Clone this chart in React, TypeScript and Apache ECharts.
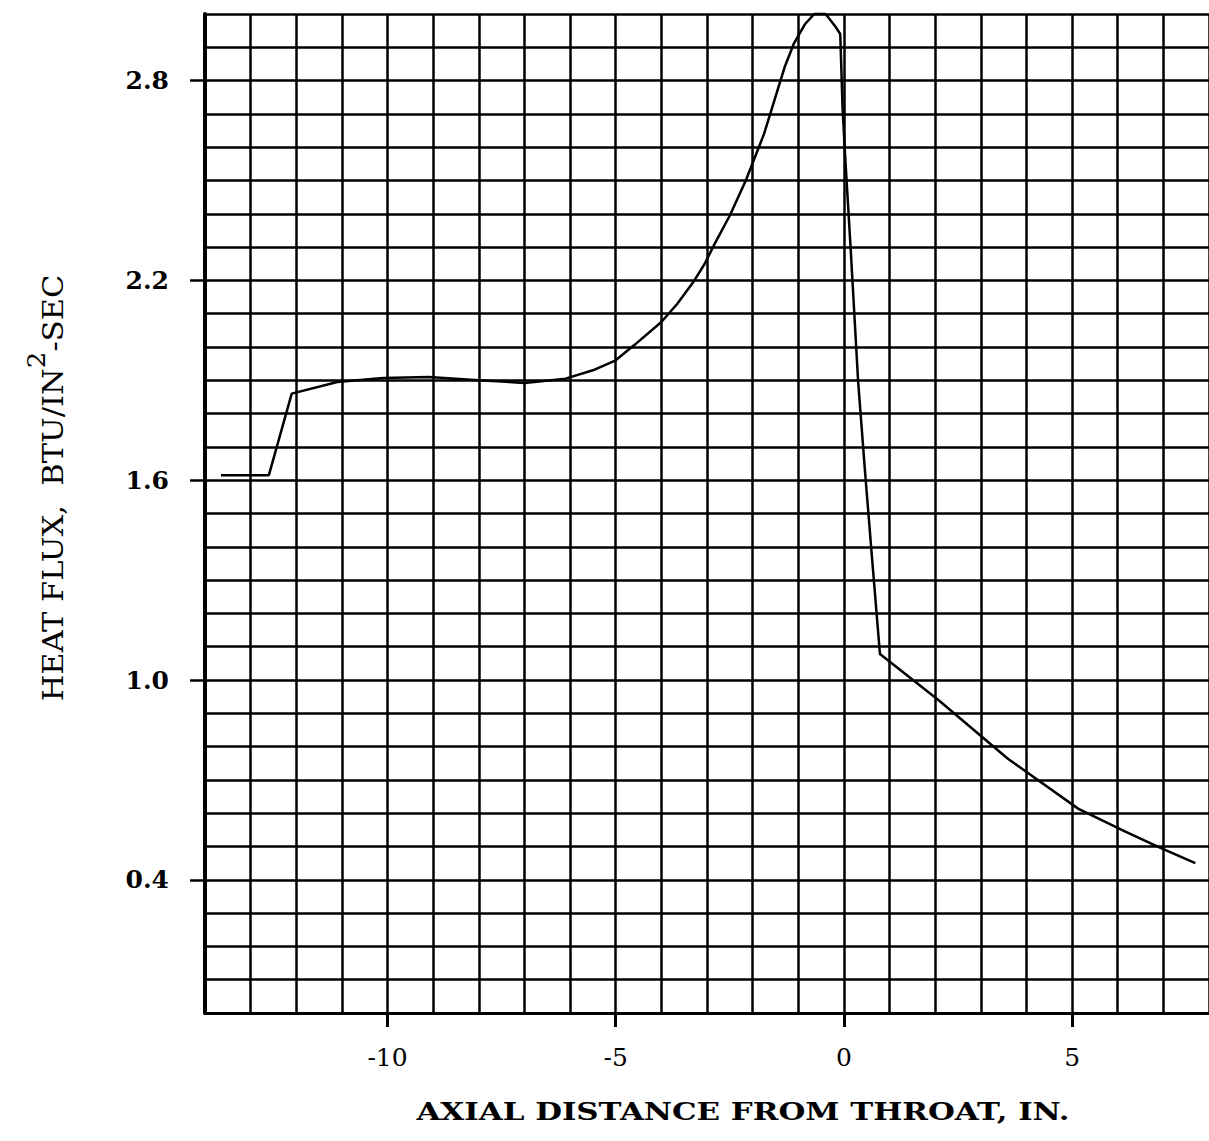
import React, { useEffect, useRef } from 'react';
import * as echarts from 'echarts';

// Axial distance from throat (in.)
const axialDistance = [
  -13.65, -12.6, -12.1, -11.1, -10.1, -9.1, -8.0, -7.0, -6.1, -5.5,
  -5.0, -4.6, -4.0, -3.65, -3.3, -3.05, -2.85, -2.5, -2.15, -1.75,
  -1.3, -1.1, -0.85, -0.65, -0.4, -0.2, -0.08, -0.03, 0.02, 0.15,
  0.31, 0.46, 0.62, 0.79, 2.07, 3.6, 5.14, 6.18, 6.9, 7.7,
];
// Heat flux (BTU/in^2-sec)
const heatFlux = [
  1.615, 1.615, 1.86, 1.895, 1.907, 1.91, 1.9, 1.892, 1.905, 1.93,
  1.96, 2.005, 2.075, 2.13, 2.195, 2.25, 2.305, 2.395, 2.5, 2.64,
  2.84, 2.91, 2.97, 3.0, 3.0, 2.965, 2.94, 2.72, 2.59, 2.29,
  1.9, 1.63, 1.36, 1.078, 0.94, 0.763, 0.613, 0.544, 0.498, 0.45,
];
const xTickValues = [-10, -5, 0, 5];
const yTickValues = [0.4, 1.0, 1.6, 2.2, 2.8];
const xAxisTitle = 'AXIAL DISTANCE FROM THROAT, IN.';
const yAxisTitleMain = 'HEAT FLUX,  BTU/IN';
const yAxisTitleSup = '2';
const yAxisTitleEnd = '-SEC';

const FONT = '"DejaVu Serif", "Liberation Serif", serif';

export default function App() {
  const ref = useRef<HTMLDivElement>(null);
  useEffect(() => {
    const chart = echarts.init(ref.current!, null, { renderer: 'svg' });
    const data = axialDistance.map((x, i) => [x, heatFlux[i]]);
    chart.setOption({
      animation: false,
      backgroundColor: '#ffffff',
      grid: { left: 205, top: 14, width: 1005, height: 999, containLabel: false },
      xAxis: [
        {
          type: 'value',
          min: -14,
          max: 8,
          interval: 1,
          position: 'bottom',
          axisLine: { show: true, onZero: false, lineStyle: { color: '#000', width: 3 } },
          axisTick: { show: false },
          axisLabel: { show: false },
          splitLine: { show: true, lineStyle: { color: '#000', width: 2.5 } },
        },
        {
          type: 'value',
          min: -14,
          max: 8,
          position: 'bottom',
          axisLine: { show: false, onZero: false },
          splitLine: { show: false },
          axisTick: {
            show: true,
            customValues: xTickValues,
            length: 14,
            lineStyle: { color: '#000', width: 3 },
          },
          axisLabel: {
            show: true,
            customValues: xTickValues,
            formatter: (v: number) => String(v),
            margin: 32,
            color: '#000',
            fontFamily: FONT,
            fontSize: 25,
          },
        },
      ],
      yAxis: [
        {
          type: 'value',
          min: 0,
          max: 3,
          interval: 0.1,
          position: 'left',
          axisLine: { show: true, onZero: false, lineStyle: { color: '#000', width: 4 } },
          axisTick: { show: false },
          axisLabel: { show: false },
          splitLine: { show: true, lineStyle: { color: '#000', width: 2.5 } },
        },
        {
          type: 'value',
          min: 0,
          max: 3,
          position: 'left',
          axisLine: { show: false, onZero: false },
          splitLine: { show: false },
          axisTick: {
            show: true,
            customValues: yTickValues,
            length: 15,
            lineStyle: { color: '#000', width: 2.5 },
          },
          axisLabel: {
            show: true,
            customValues: yTickValues,
            formatter: (v: number) => v.toFixed(1),
            margin: 36,
            color: '#000',
            fontFamily: FONT,
            fontWeight: 'bold',
            fontSize: 25,
          },
        },
      ],
      graphic: [
        {
          type: 'text',
          x: 743,
          y: 1112,
          scaleX: 1.235,
          style: {
            text: xAxisTitle,
            fontFamily: FONT,
            fontSize: 25,
            fontWeight: 'bold',
            fill: '#000',
            textAlign: 'center',
            textVerticalAlign: 'middle',
          },
        },
        {
          type: 'text',
          x: 53,
          y: 488,
          rotation: Math.PI / 2,
          scaleX: 1.09,
          style: {
            text: yAxisTitleMain + '{s|' + yAxisTitleSup + '}' + yAxisTitleEnd,
            fontFamily: FONT,
            fontSize: 28,
            fill: '#000',
            textAlign: 'center',
            textVerticalAlign: 'middle',
            rich: {
              s: { fontFamily: FONT, fontSize: 24, fill: '#000', padding: [0, 0, 32, 0] },
            },
          },
        },
      ],
      series: [
        {
          type: 'line',
          xAxisIndex: 0,
          yAxisIndex: 0,
          data,
          showSymbol: false,
          symbol: 'none',
          clip: false,
          smooth: false,
          lineStyle: { color: '#000', width: 2.5 },
        },
      ],
    });
    return () => chart.dispose();
  }, []);
  return (
    <div
      ref={ref}
      style={{ position: 'absolute', left: 0, top: 0, width: 1209, height: 1141, background: '#fff' }}
    />
  );
}
